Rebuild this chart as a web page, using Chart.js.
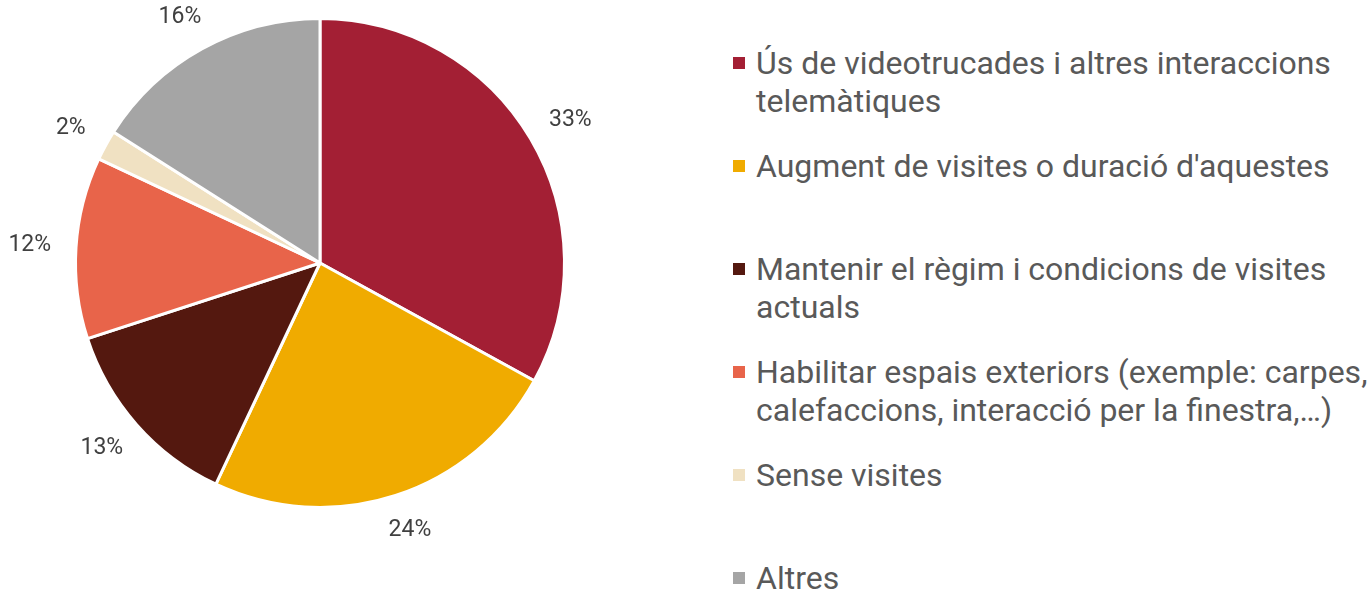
<!DOCTYPE html>
<html>
<head>
<meta charset="utf-8">
<script src="https://cdn.jsdelivr.net/npm/chart.js@4"></script>
<style>
  html, body { margin: 0; padding: 0; background: #fff; }
  body { width: 1372px; height: 590px; position: relative; overflow: hidden; }
  #wrap { position: absolute; left: 0; top: 0; width: 640px; height: 590px; }
  #legend { position: absolute; left: 733px; top: 44px; font-family: Roboto, sans-serif; font-size: 32px; color: #595959; }
  .item { height: 103px; position: relative; padding-left: 23px; line-height: 38px; width: 630px; white-space: nowrap; }
  .box { position: absolute; left: 0; top: 13px; width: 12px; height: 12px; }
</style>
</head>
<body>
<div id="wrap"><canvas id="pie"></canvas></div>
<div id="legend"></div>
<script>
const labels = [
  'Ús de videotrucades i altres interaccions telemàtiques',
  "Augment de visites o duració d'aquestes",
  'Mantenir el règim i condicions de visites actuals',
  'Habilitar espais exteriors (exemple: carpes, calefaccions, interacció per la finestra,…)',
  'Sense visites',
  'Altres'
];
const values = [33, 24, 13, 12, 2, 16];
const colors = ['#A31F34', '#F0AB00', '#54180F', '#E8644A', '#F0E1C2', '#A5A5A5'];
// line breaks for the legend, as in the picture
const legendLines = [
  ['Ús de videotrucades i altres interaccions', 'telemàtiques'],
  ["Augment de visites o duració d'aquestes"],
  ['Mantenir el règim i condicions de visites', 'actuals'],
  ['Habilitar espais exteriors (exemple: carpes,', 'calefaccions, interacció per la finestra,…)'],
  ['Sense visites'],
  ['Altres']
];

// percentage labels just outside the slice, box pushed away from the arc
const outsideLabels = {
  id: 'outsideLabels',
  afterDatasetsDraw(chart) {
    const ctx = chart.ctx;
    const meta = chart.getDatasetMeta(0);
    const total = values.reduce((a, b) => a + b, 0);
    ctx.save();
    ctx.font = '23px Roboto, sans-serif';
    ctx.fillStyle = '#404040';
    ctx.textAlign = 'center';
    ctx.textBaseline = 'middle';
    meta.data.forEach((arc, i) => {
      const p = arc.getProps(['x', 'y', 'startAngle', 'endAngle', 'outerRadius'], true);
      const mid = (p.startAngle + p.endAngle) / 2;
      const pct = Math.round(values[i] / total * 100) + '%';
      const w = ctx.measureText(pct).width, h = 22;
      const d = p.outerRadius + 25;
      const cx = p.x + Math.cos(mid) * d + Math.cos(mid) * w / 2;
      const cy = p.y + Math.sin(mid) * d + Math.sin(mid) * h / 2;
      ctx.fillText(pct, cx, cy);
    });
    ctx.restore();
  }
};

const chart = new Chart(document.getElementById('pie'), {
  type: 'pie',
  data: {
    labels: labels,
    datasets: [{
      data: values,
      backgroundColor: colors,
      borderColor: '#ffffff',
      borderWidth: 3
    }]
  },
  options: {
    responsive: true,
    maintainAspectRatio: false,
    animation: false,
    layout: { padding: { top: 17, left: 17, right: 17, bottom: 81 } },
    plugins: {
      legend: { display: false },
      tooltip: { enabled: false }
    }
  },
  plugins: [outsideLabels]
});

const legend = document.getElementById('legend');
legendLines.forEach((lines, i) => {
  const item = document.createElement('div');
  item.className = 'item';
  const box = document.createElement('span');
  box.className = 'box';
  box.style.background = colors[i];
  item.appendChild(box);
  lines.forEach(t => {
    const line = document.createElement('div');
    line.textContent = t;
    item.appendChild(line);
  });
  legend.appendChild(item);
});
</script>
</body>
</html>
